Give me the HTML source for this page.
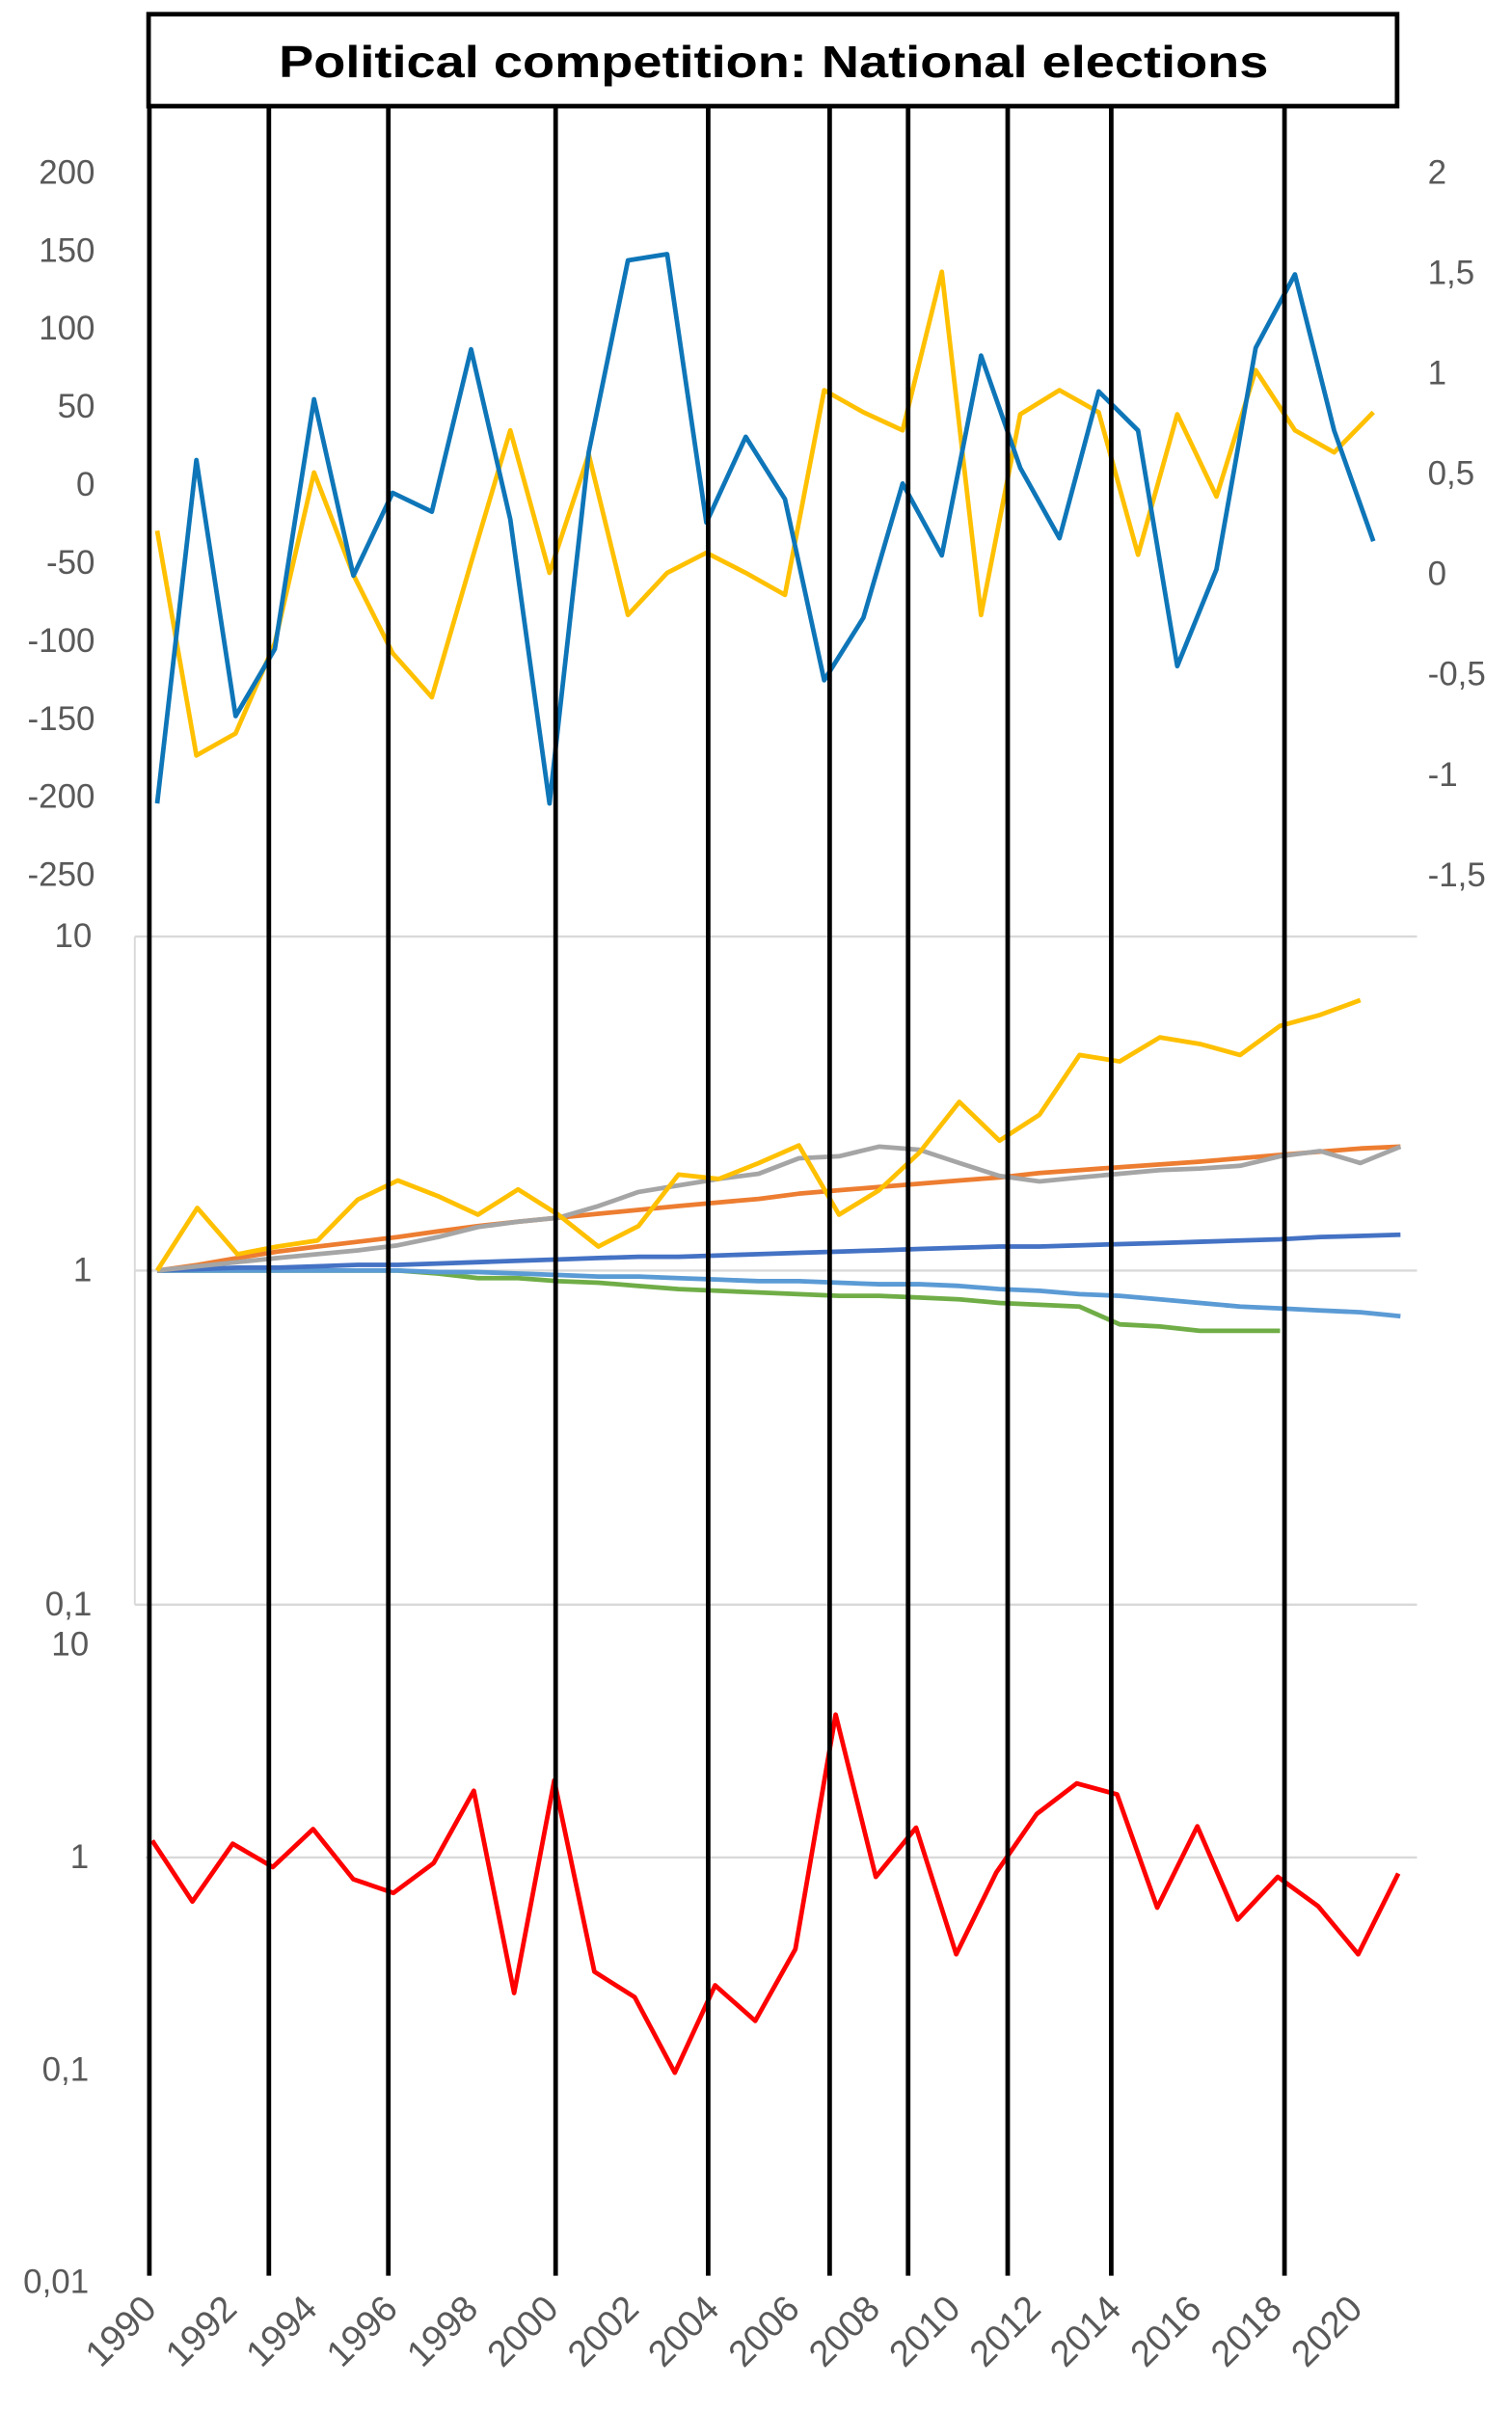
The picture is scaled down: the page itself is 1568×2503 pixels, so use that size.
<!DOCTYPE html>
<html><head><meta charset="utf-8"><style>
html,body{margin:0;padding:0;background:#fff;}
svg{display:block;}
text{font-family:"Liberation Sans",sans-serif;}
</style></head><body>
<svg id="chart" width="1568" height="2503" viewBox="0 0 987 1575" xmlns="http://www.w3.org/2000/svg">
<rect x="0" y="0" width="987" height="1575" fill="#fff"/>
<g id="grid"></g>
<g id="series"></g>
<g id="events"></g>
<g id="labels"></g>
<rect x="97" y="9" width="815" height="60" fill="#fff" stroke="#000" stroke-width="3"/>
<text x="505" y="50" text-anchor="middle" font-size="29" font-weight="bold" textLength="646" lengthAdjust="spacingAndGlyphs">Political competition: National elections</text>
</svg>
<script>
const years = [1990,1991,1992,1993,1994,1995,1996,1997,1998,1999,2000,2001,2002,2003,2004,2005,2006,2007,2008,2009,2010,2011,2012,2013,2014,2015,2016,2017,2018,2019,2020,2021];
const yearLabels = ["1990","1992","1994","1996","1998","2000","2002","2004","2006","2008","2010","2012","2014","2016","2018","2020"];
const topBlue = [-205,15,-149,-106,54,-59,-6,-18,86,-23,-205,20,143,147,-25,30,-10,-126,-86,0,-46,82,10,-35,59,34,-117,-55,87,134,34,-37];
const topYellow = [0.21,-0.91,-0.80,-0.35,0.50,-0.01,-0.40,-0.62,0.05,0.71,0.0,0.59,-0.21,0.0,0.10,0.0,-0.11,0.91,0.80,0.71,1.50,-0.21,0.79,0.91,0.80,0.09,0.79,0.38,1.01,0.71,0.60,0.80];
const leftTicks = [200,150,100,50,0,-50,-100,-150,-200,-250];
const rightTicks = ["2","1,5","1","0,5","0","-0,5","-1","-1,5"];
const rightTickValues = [2,1.5,1,0.5,0,-0.5,-1,-1.5];
const midYellow = [1.0,1.54,1.12,1.18,1.23,1.63,1.86,1.67,1.47,1.75,1.47,1.18,1.36,1.94,1.88,2.10,2.37,1.47,1.74,2.25,3.2,2.45,2.93,4.42,4.23,4.99,4.77,4.42,5.4,5.83,6.45];
const midOrange = [1.0,1.04,1.09,1.14,1.18,1.22,1.26,1.31,1.36,1.40,1.44,1.48,1.52,1.56,1.60,1.64,1.70,1.74,1.78,1.82,1.86,1.90,1.96,2.00,2.04,2.08,2.12,2.17,2.22,2.27,2.32,2.35];
const midGray = [1.0,1.03,1.06,1.09,1.12,1.15,1.19,1.26,1.35,1.40,1.44,1.56,1.72,1.80,1.88,1.95,2.17,2.20,2.35,2.30,2.10,1.92,1.85,1.90,1.95,2.00,2.02,2.06,2.20,2.28,2.10,2.35];
const midDarkBlue = [1.00,1.01,1.02,1.02,1.03,1.04,1.04,1.05,1.06,1.07,1.08,1.09,1.10,1.10,1.11,1.12,1.13,1.14,1.15,1.16,1.17,1.18,1.18,1.19,1.20,1.21,1.22,1.23,1.24,1.26,1.27,1.28];
const midLightBlue = [1.0,1.0,1.0,1.0,1.0,1.0,1.0,0.99,0.99,0.98,0.97,0.96,0.96,0.95,0.94,0.93,0.93,0.92,0.91,0.91,0.90,0.88,0.87,0.85,0.84,0.82,0.80,0.78,0.77,0.76,0.75,0.73];
const midGreen = [1,1,1,1,1,1,1,0.98,0.95,0.95,0.93,0.92,0.90,0.88,0.87,0.86,0.85,0.84,0.84,0.83,0.82,0.80,0.79,0.78,0.69,0.68,0.66,0.66,0.66];
const midTicks = ["10","1","0,1"];
const midTickValues = [10,1,0.1];
const botRed = [1.2,0.62,1.16,0.90,1.36,0.79,0.68,0.94,2.06,0.23,2.3,0.29,0.22,0.097,0.25,0.17,0.37,4.7,0.81,1.38,0.35,0.85,1.6,2.23,1.98,0.58,1.40,0.51,0.81,0.59,0.35,0.84];
const botTicks = ["10","1","0,1","0,01"];
const botTickValues = [10,1,0.1,0.01];
const eventYears = [1990,1993,1996,2000.2,2004.03,2007.08,2009.05,2011.55,2014.15,2018.5];

const NS="http://www.w3.org/2000/svg";
function mk(tag, attrs, parent){const e=document.createElementNS(NS,tag);for(const k in attrs)e.setAttribute(k,attrs[k]);parent.appendChild(e);return e;}
const G=document.getElementById('grid'),S=document.getElementById('series'),E=document.getElementById('events'),L=document.getElementById('labels');

const xTop = i => 102.6 + i*25.61;
const xMid = i => 102.6 + i*26.18;
const xBot = i => 99.4 + i*26.24;
const yTopL = v => 111.6 + (200 - v)/50*50.93;
const yTopR = v => 111.6 + (2 - v)/0.5*65.5;
const yMid = v => 829 - Math.log10(v)*218;
const yBot = v => 1212 - Math.log10(v)*138.7;
const xEvent = y => 97.5 + (y-1990)*26.0;

function line(arr, xf, yf, color, name){
  const p = mk('polyline',{points:arr.map((v,i)=>xf(i).toFixed(1)+','+yf(v).toFixed(1)).join(' '),fill:'none',stroke:color,'stroke-width':3,'stroke-linejoin':'round'},S);
  
  
}

leftTicks.forEach(v=>{
  const t=mk('text',{x:62,y:yTopL(v)+8,'text-anchor':'end','font-size':22,fill:'#595959'},L);
  t.textContent=String(v);
  
  
});
rightTicks.forEach((s,k)=>{
  const t=mk('text',{x:932,y:yTopR(rightTickValues[k])+8,'text-anchor':'start','font-size':22,fill:'#595959'},L);
  t.textContent=s;
  
  
});
const mb=mk('line',{x1:88,y1:yMid(10),x2:88,y2:yMid(0.1),stroke:'#d9d9d9','stroke-width':1.2},G);


midTickValues.forEach((v,k)=>{
  const g=mk('line',{x1:88,y1:yMid(v),x2:925,y2:yMid(v),stroke:'#d9d9d9','stroke-width':1.5},G);
  
  
  const t=mk('text',{x:60,y:yMid(v)+7,'text-anchor':'end','font-size':22,fill:'#595959'},L);
  t.textContent=midTicks[k];
  
  
});
const bg=mk('line',{x1:95,y1:yBot(1),x2:925,y2:yBot(1),stroke:'#d9d9d9','stroke-width':1.5},G);


botTickValues.forEach((v,k)=>{
  const t=mk('text',{x:58,y:yBot(v)+7,'text-anchor':'end','font-size':22,fill:'#595959'},L);
  t.textContent=botTicks[k];
  
  
});
yearLabels.forEach((s,k)=>{
  const x=xBot(k*2)+4, y=1508;
  const t=mk('text',{x:x,y:y,'text-anchor':'end','font-size':24,fill:'#595959',transform:'rotate(-45 '+x+' '+y+')'},L);
  t.textContent=s;
  
  
});

line(topYellow, xTop, yTopR, '#FFC000', 'top-yellow-series');
line(topBlue, xTop, yTopL, '#0E76B8', 'top-blue-series');
line(midGreen, xMid, yMid, '#70AD47', 'middle-green-series');
line(midLightBlue, xMid, yMid, '#5B9BD5', 'middle-light-blue-series');
line(midDarkBlue, xMid, yMid, '#4472C4', 'middle-dark-blue-series');
line(midOrange, xMid, yMid, '#ED7D31', 'middle-orange-series');
line(midGray, xMid, yMid, '#A5A5A5', 'middle-gray-series');
line(midYellow, xMid, yMid, '#FFC000', 'middle-yellow-series');
line(botRed, xBot, yBot, '#FF0000', 'bottom-red-series');

eventYears.forEach(y=>{
  const l=mk('line',{x1:xEvent(y),y1:69,x2:xEvent(y),y2:1485,stroke:'#000','stroke-width':3},E);
  
  
});
</script>
</body></html>
